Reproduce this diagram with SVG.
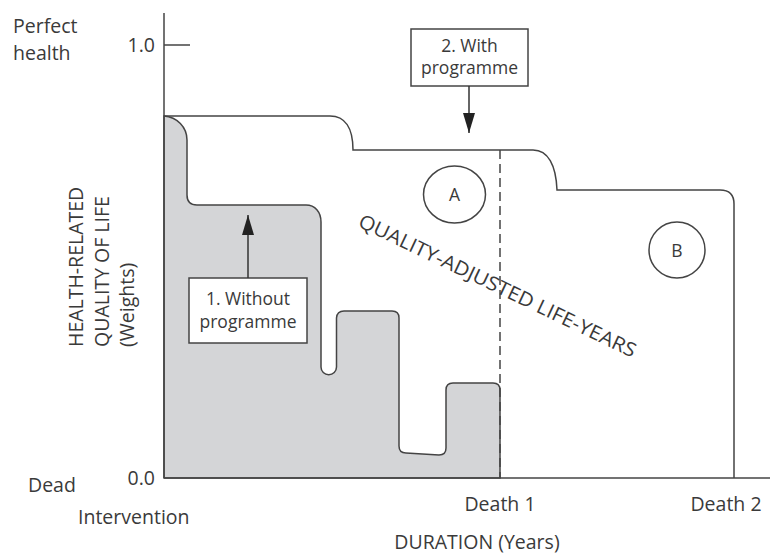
<svg xmlns="http://www.w3.org/2000/svg" width="780" height="556" viewBox="0 0 780 556">
<style>
text{font-family:"Open Sans","Noto Sans","Liberation Sans",sans-serif;fill:#3a3a3a}
.ax{font-size:19.5px}
.lb{font-size:17.5px}
.ln{fill:none;stroke:#444;stroke-width:1.5}
.box{fill:#fff;stroke:#444;stroke-width:1.5}
</style>
<defs>
<marker id="ah" markerUnits="userSpaceOnUse" markerWidth="20" markerHeight="12" refX="20" refY="6" orient="auto">
<path d="M0,0 L20,6 L0,12 z" fill="#222"/>
</marker>
</defs>
<g id="without-programme-area">
<path d="M164,478 V116 C177,117 187,127 187,140 V195 Q187,205 197,205 H306 C315,205 321,212 321,222 V367 A7.5,7.5 0 0 0 336.5,367 V318 Q337,311 344,311 H392 Q399,311 399,318 V446 Q399,453 406,453 L439,455 Q446,455 446,448 V390 Q446,383 453,383 H493 Q500,383 500,390 V478 Z" fill="#d4d5d7" stroke="#444" stroke-width="1.5"/>
</g>
<g id="with-programme-line">
<path class="ln" d="M164,116 H330 C345,116 353,128 353,150 H533 C548,150 556,165 557,190 H720 Q734,190 734,204 V478"/>
</g>
<g id="axes">
<line class="ln" x1="164" y1="13" x2="164" y2="478"/>
<line class="ln" x1="164" y1="478" x2="770" y2="478"/>
<line class="ln" x1="164" y1="45" x2="190" y2="45"/>
<line x1="500" y1="150" x2="500" y2="478" stroke="#444" stroke-width="1.5" stroke-dasharray="9 5"/>
</g>
<g id="axis-labels">
<text class="ax" x="13" y="33">Perfect</text>
<text class="ax" x="13" y="60">health</text>
<text class="ax" x="155" y="52" text-anchor="end">1.0</text>
<text class="ax" x="155" y="485" text-anchor="end">0.0</text>
<text class="ax" x="28" y="492">Dead</text>
<text class="ax" x="78" y="524">Intervention</text>
<text class="ax" x="500" y="511" text-anchor="middle">Death 1</text>
<text class="ax" x="726" y="511" text-anchor="middle">Death 2</text>
<text class="ax" x="477" y="549" text-anchor="middle">DURATION (Years)</text>
<g transform="translate(0,347) rotate(-90)">
<text class="ax" x="0" y="83">HEALTH-RELATED</text>
<text class="ax" x="0" y="108.5">QUALITY OF LIFE</text>
<text class="ax" x="0" y="134">(Weights)</text>
</g>
<text class="ax" transform="translate(357,226) rotate(25.6)" x="0" y="0" textLength="305" lengthAdjust="spacingAndGlyphs">QUALITY-ADJUSTED LIFE-YEARS</text>
</g>
<g id="node-A">
<ellipse cx="454.5" cy="194.5" rx="31" ry="28.5" fill="none" stroke="#444" stroke-width="1.5"/>
<text class="lb" x="454.5" y="201" text-anchor="middle">A</text>
</g>
<g id="node-B">
<circle cx="677" cy="250" r="28" fill="none" stroke="#444" stroke-width="1.5"/>
<text class="lb" x="677" y="256.5" text-anchor="middle">B</text>
</g>
<g id="label-with">
<rect class="box" x="411" y="29" width="117" height="57"/>
<text class="lb" x="469.5" y="52" text-anchor="middle">2. With</text>
<text class="lb" x="469.5" y="74" text-anchor="middle">programme</text>
</g>
<g id="label-without">
<rect class="box" x="189" y="278" width="118" height="65"/>
<text class="lb" x="248" y="305" text-anchor="middle">1. Without</text>
<text class="lb" x="248" y="328" text-anchor="middle">programme</text>
</g>
<g id="connectors">
<line x1="469" y1="86" x2="469" y2="133" stroke="#333" stroke-width="1.5" marker-end="url(#ah)"/>
<line x1="248" y1="278" x2="248" y2="215" stroke="#333" stroke-width="1.5" marker-end="url(#ah)"/>
</g>
</svg>
